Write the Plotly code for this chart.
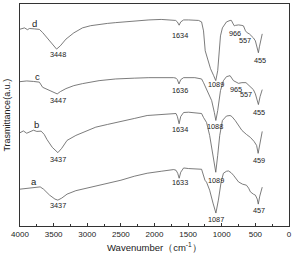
import plotly.graph_objects as go

# Spectra: wavenumber (cm-1) and relative transmittance (a.u., offset stacked)
wn_d = [4000, 3933, 3889, 3859, 3786, 3741, 3712, 3663, 3600, 3564, 3500, 3456, 3400, 3317, 3200, 3071, 2950, 2824, 2700, 2577, 2300, 2084, 1900, 1714, 1686, 1660, 1634, 1610, 1567, 1493, 1345, 1300, 1271, 1246, 1200, 1167, 1120, 1089, 1060, 1049, 1019, 990, 930, 876, 857, 830, 812, 797, 751, 700, 677, 647, 620, 590, 557, 530, 500, 482, 455, 440, 420, 398]
tr_d = [28.3, 27.0, 28.8, 27.6, 28.0, 28.3, 28.5, 31.7, 37, 40, 45, 48.3, 45, 38.3, 32, 27, 24.8, 23.3, 22.5, 21.7, 20, 19, 18.5, 19, 19.5, 21, 24.3, 21, 19, 19, 19.5, 21, 30, 50, 62, 68, 75, 80, 70, 60, 35, 27, 21, 19.5, 19.5, 23, 25, 24.5, 24, 24.5, 25, 30, 32, 33, 35, 37, 40, 44, 52, 46, 38, 33]

wn_c = [4000, 3900, 3800, 3741, 3712, 3663, 3564, 3500, 3447, 3400, 3317, 3200, 3071, 2824, 2577, 2300, 2084, 1714, 1680, 1660, 1636, 1610, 1567, 1400, 1320, 1300, 1271, 1246, 1200, 1150, 1110, 1088, 1060, 1019, 975, 930, 876, 857, 826, 751, 700, 640, 604, 557, 530, 500, 472, 455, 430, 398]
tr_c = [81, 80.3, 80.8, 81, 81.5, 86.7, 90, 92, 93.3, 91, 88, 85, 83, 80, 78.3, 77.5, 77, 77, 77.5, 79, 83.3, 79, 77, 77, 77.5, 78.3, 82, 86, 93.3, 100, 112, 120, 110, 90, 80, 76, 75, 77, 80, 82.7, 82, 82, 84, 86.7, 89, 93.3, 100, 104, 96, 89]

wn_b = [4000, 3950, 3900, 3850, 3800, 3750, 3686, 3640, 3600, 3520, 3437, 3380, 3300, 3169, 3000, 2873, 2700, 2528, 2300, 2109, 1900, 1714, 1680, 1660, 1634, 1610, 1567, 1493, 1345, 1300, 1271, 1226, 1180, 1130, 1089, 1060, 1030, 990, 930, 876, 850, 800, 751, 700, 633, 574, 520, 482, 459, 440, 420, 398]
tr_b = [132.3, 130.5, 132.8, 131.2, 129.8, 131, 130.7, 134, 139, 147, 152.3, 148, 140, 135, 130, 126.7, 124, 121.7, 118, 115, 114, 112.7, 113, 116, 123.3, 116, 112, 111.7, 112.5, 113, 117, 122, 135, 155, 172, 155, 135, 120, 115.5, 115, 116, 120, 125, 130, 134, 137, 141, 145, 153, 145, 136, 131]

wn_a = [4000, 3850, 3750, 3700, 3650, 3560, 3480, 3437, 3380, 3300, 3169, 3001, 2750, 2499, 2300, 2109, 1900, 1714, 1680, 1655, 1633, 1610, 1567, 1493, 1300, 1271, 1250, 1226, 1180, 1130, 1087, 1050, 1010, 975, 930, 900, 860, 826, 751, 690, 633, 600, 574, 530, 500, 472, 457, 435, 415, 398]
tr_a = [189, 188, 186.7, 186.7, 189, 195, 199, 200, 198, 194, 190.5, 188, 183.5, 180, 176, 173, 171, 169.3, 170, 173, 178, 172, 167.7, 168.3, 169, 175, 180, 182, 190, 203, 213, 200, 182, 173, 171, 170.7, 172.5, 175, 181.7, 184, 185, 188, 191.7, 194, 195, 199, 204, 196, 190, 187]

# Peak labels: (text, wavenumber position, transmittance position)
labels_d = [("d", 3786, 22.7), ("3448", 3441, 53.3), ("1634", 1626, 35), ("1089", 1083, 84), ("966", 797, 32.3), ("557", 647, 40), ("455", 435, 59.3)]
labels_c = [("c", 3737, 76), ("3447", 3441, 100), ("1636", 1626, 90), ("1088", 1105, 126), ("965", 782, 89.3), ("557", 633, 94.3), ("455", 447, 111.7)]
labels_b = [("b", 3760, 124), ("3437", 3441, 159), ("1634", 1626, 129), ("1089", 1083, 180), ("459", 447, 160)]
labels_a = [("a", 3786, 181.7), ("3437", 3441, 205), ("1633", 1626, 182.7), ("1087", 1089, 219), ("457", 447, 210)]

x_ticks = [4000, 3500, 3000, 2500, 2000, 1500, 1000, 500, 0]

PLOT_TOP_Y = 226  # converts picture-based values to axis values
FONT = "Arial, Liberation Sans, sans-serif"

fig = go.Figure()
for wn, tr in [(wn_d, tr_d), (wn_c, tr_c), (wn_b, tr_b), (wn_a, tr_a)]:
    fig.add_trace(go.Scatter(x=wn, y=[PLOT_TOP_Y - v for v in tr], mode="lines",
                             line=dict(color="#5a5a5a", width=0.8), showlegend=False,
                             hoverinfo="skip"))

for group in [labels_d, labels_c, labels_b, labels_a]:
    for txt, xw, yv in group:
        big = len(txt) == 1
        fig.add_annotation(x=xw, y=PLOT_TOP_Y - yv, text=txt, showarrow=False,
                           xanchor="center", yanchor="middle",
                           font=dict(family=FONT, size=9.5 if big else 7.3, color="#222"))

fig.add_annotation(xref="paper", yref="paper", x=-0.05, y=0.5, text="Trasmittance(a.u.)",
                   textangle=-90, showarrow=False, xanchor="center", yanchor="middle",
                   font=dict(family=FONT, size=9, color="#222"))
fig.add_annotation(xref="paper", yref="paper", x=0.5, y=-0.094,
                   text="Wavenumber（cm<sup>-1</sup>）", showarrow=False,
                   xanchor="center", yanchor="middle",
                   font=dict(family=FONT, size=9.5, color="#222"))

fig.update_xaxes(range=[4000, 0], tickvals=x_ticks, ticktext=[str(v) for v in x_ticks],
                 ticks="inside", ticklen=3, tickcolor="#333", tickwidth=0.8,
                 minor=dict(ticks="inside", ticklen=2, dtick=250, tickcolor="#333", tickwidth=0.8),
                 showline=True, linecolor="#333", linewidth=1, mirror=True,
                 showgrid=False, zeroline=False,
                 tickfont=dict(family=FONT, size=8, color="#222"))
fig.update_yaxes(range=[0, 223], showticklabels=False, ticks="",
                 showline=True, linecolor="#333", linewidth=1, mirror=True,
                 showgrid=False, zeroline=False)

fig.update_layout(width=295, height=255, margin=dict(l=20, r=4, t=3, b=29),
                  paper_bgcolor="white", plot_bgcolor="white")

fig.write_html("out.html")
